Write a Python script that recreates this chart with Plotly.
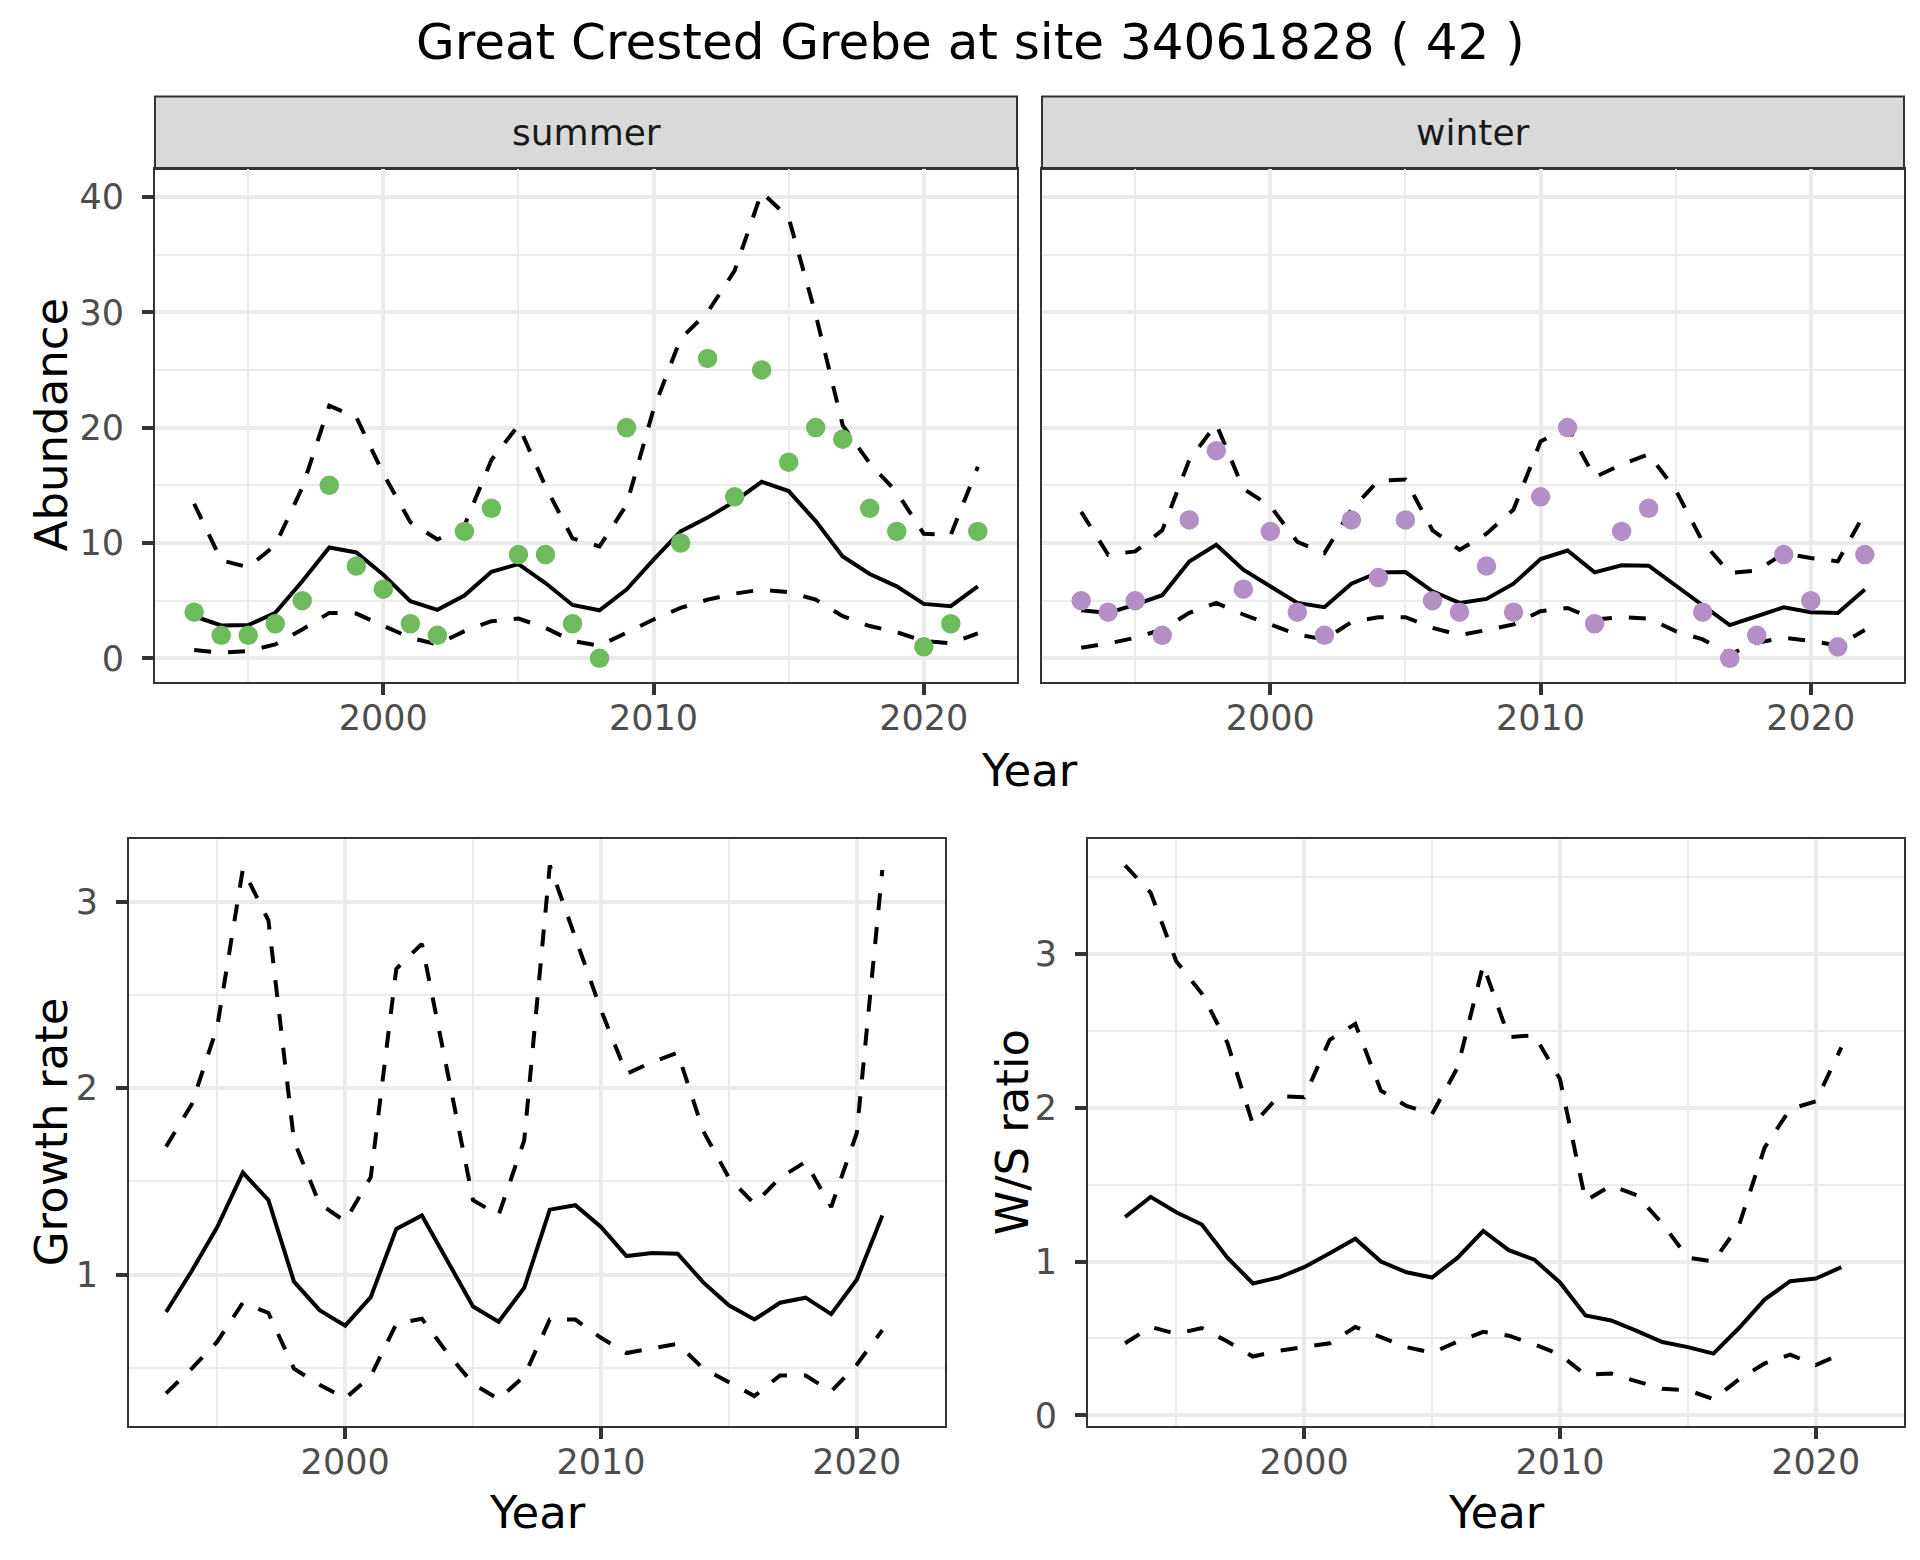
import plotly.graph_objects as go

# ---------------- data ----------------
years = list(range(1993, 2023))
ratio_years = list(range(1993, 2022))

summer_obs = [4, 2, 2, 3, 5, 15, 8, 6, 3, 2, 11, 13, 9, 9, 3, 0, 20, None, 10, 26,
              14, 25, 17, 20, 19, 13, 11, 1, 3, 11]
summer_mean = [3.65, 2.85, 2.88, 3.94, 6.68, 9.61, 9.18, 7.25, 4.95, 4.20, 5.44, 7.51,
               8.17, 6.53, 4.63, 4.17, 5.96, 8.55, 11.0, 12.2, 13.6, 15.3, 14.5, 11.9,
               8.83, 7.31, 6.24, 4.72, 4.52, 6.24]
summer_upper = [13.4, 8.5, 7.9, 9.8, 14.8, 21.9, 20.9, 16.0, 11.8, 10.3, 11.5, 17.2,
                20.2, 14.9, 10.4, 9.7, 13.3, 21.6, 27.7, 30.0, 33.6, 40.4, 38.2, 29.8,
                20.2, 16.9, 14.4, 10.8, 10.7, 16.6]
summer_lower = [0.72, 0.49, 0.63, 1.21, 2.5, 3.94, 3.88, 2.8, 1.78, 1.21, 2.36, 3.22,
                3.45, 2.65, 1.5, 1.09, 2.2, 3.37, 4.37, 5.09, 5.61, 5.96, 5.73, 5.09,
                3.65, 2.8, 2.27, 1.5, 1.3, 2.16]

winter_obs = [5, 4, 5, 2, 12, 18, 6, 11, 4, 2, 12, 7, 12, 5, 4, 8, 4, 14, 20, 3,
              11, 13, None, 4, 0, 2, 9, 5, 1, 9]
winter_mean = [4.17, 3.94, 4.66, 5.47, 8.4, 9.84, 7.68, 6.24, 4.81, 4.43, 6.47, 7.45,
               7.48, 5.81, 4.81, 5.15, 6.47, 8.6, 9.35, 7.45, 8.06, 8.03, 6.3, 4.6,
               2.88, 3.65, 4.43, 4.0, 3.94, 5.96]
winter_upper = [12.7, 8.98, 9.27, 11.1, 17.2, 20.3, 14.7, 13.2, 10.1, 9.12, 12.9, 15.4,
                15.5, 11.1, 9.4, 10.8, 12.9, 18.8, 20.0, 15.7, 16.8, 17.7, 14.6, 10.1,
                7.4, 7.6, 9.1, 8.7, 8.4, 12.6]
winter_lower = [0.92, 1.29, 1.78, 2.5, 3.94, 4.8, 3.8, 2.94, 2.07, 1.64, 3.14, 3.57,
                3.57, 2.65, 2.01, 2.45, 2.94, 4.09, 4.37, 3.37, 3.57, 3.45, 2.36, 1.64,
                0.35, 1.35, 1.78, 1.5, 1.12, 2.45]

growth_mean = [0.80, 1.02, 1.256, 1.548, 1.40, 0.963, 0.81, 0.727, 0.88, 1.246, 1.318,
               1.07, 0.83, 0.748, 0.93, 1.349, 1.373, 1.256, 1.10, 1.117, 1.113, 0.959,
               0.836, 0.76, 0.85, 0.877, 0.789, 0.973, 1.318]
growth_upper = [1.687, 1.913, 2.33, 3.174, 2.9, 1.718, 1.38, 1.287, 1.523, 2.64, 2.774,
                2.1, 1.40, 1.32, 1.72, 3.195, 2.81, 2.42, 2.077, 2.14, 2.19, 1.77,
                1.52, 1.38, 1.52, 1.605, 1.363, 1.76, 3.17]
growth_lower = [0.364, 0.497, 0.641, 0.85, 0.795, 0.497, 0.41, 0.337, 0.456, 0.737,
                0.764, 0.58, 0.415, 0.333, 0.456, 0.76, 0.76, 0.662, 0.58, 0.604, 0.63,
                0.497, 0.426, 0.35, 0.46, 0.46, 0.374, 0.518, 0.703]

ws_mean = [1.289, 1.42, 1.32, 1.24, 1.025, 0.857, 0.896, 0.963, 1.054, 1.148, 1.0,
           0.93, 0.896, 1.025, 1.198, 1.074, 1.012, 0.864, 0.649, 0.617, 0.55, 0.477,
           0.444, 0.402, 0.568, 0.753, 0.872, 0.889, 0.963]
ws_upper = [3.573, 3.395, 2.95, 2.74, 2.42, 1.889, 2.074, 2.067, 2.44, 2.543, 2.11,
            2.01, 1.958, 2.26, 2.926, 2.457, 2.47, 2.185, 1.395, 1.494, 1.43, 1.247,
            1.025, 1.0, 1.235, 1.74, 1.99, 2.04, 2.39]
ws_lower = [0.469, 0.575, 0.53, 0.568, 0.48, 0.383, 0.42, 0.444, 0.469, 0.575, 0.506,
            0.444, 0.407, 0.48, 0.543, 0.518, 0.462, 0.395, 0.264, 0.272, 0.222, 0.173,
            0.165, 0.106, 0.235, 0.338, 0.395, 0.328, 0.40]

facet_labels = ["summer", "winter"]
title_text = "Great Crested Grebe at site 34061828 ( 42 )"

# ---------------- styling ----------------
FONT = "DejaVu Sans"
W, H = 1920, 1560
GREEN = "#6DBB5C"
PURPLE = "#B48FC5"
LINE_W = 4
DASH = "17px,17px"


def fx(x):
    return x / W


def fy(y):
    return 1 - y / H


def expand(vals_lists, mult=0.05):
    vals = [v for lst in vals_lists for v in lst if v is not None]
    lo, hi = min(vals), max(vals)
    d = hi - lo
    return [lo - mult * d, hi + mult * d]


# panel boxes in pixels: (left, right, top, bottom)
P_SUM = (147, 1009, 162, 678)
P_WIN = (1034, 1896, 162, 678)
P_GR = (121, 937, 836, 1427)
P_WS = (1080, 1896, 836, 1427)
STRIP_TOP = 89

xr = expand([years])
yr_top = expand([summer_obs, summer_upper, summer_lower, winter_obs, winter_upper, winter_lower])
yr_gr = expand([growth_upper, growth_lower])
yr_ws = expand([ws_upper, ws_lower])

fig = go.Figure()


def add_band(x, mean, upper, lower, xa, ya):
    for vals, dash in ((upper, DASH), (lower, DASH), (mean, "solid")):
        fig.add_trace(go.Scatter(x=x, y=vals, mode="lines", xaxis=xa, yaxis=ya,
                                 line=dict(color="black", width=LINE_W, dash=dash),
                                 showlegend=False, hoverinfo="skip"))


add_band(years, summer_mean, summer_upper, summer_lower, "x", "y")
fig.add_trace(go.Scatter(x=years, y=summer_obs, mode="markers", xaxis="x", yaxis="y",
                         marker=dict(color=GREEN, size=19.5, line=dict(width=0)),
                         showlegend=False))
add_band(years, winter_mean, winter_upper, winter_lower, "x2", "y2")
fig.add_trace(go.Scatter(x=years, y=winter_obs, mode="markers", xaxis="x2", yaxis="y2",
                         marker=dict(color=PURPLE, size=19.5, line=dict(width=0)),
                         showlegend=False))
add_band(ratio_years, growth_mean, growth_upper, growth_lower, "x3", "y3")
add_band(ratio_years, ws_mean, ws_upper, ws_lower, "x4", "y4")

tickfont = dict(family=FONT, size=35, color="#4D4D4D")


def axis_style(domain, rng, tick0, dtick, mtick0, anchor, standoff,
               showlabels=True, ticks=True):
    return dict(
        domain=domain, range=rng, anchor=anchor,
        showline=True, linecolor="#333333", linewidth=2, mirror=True,
        showgrid=True, gridcolor="#EBEBEB", gridwidth=4, zeroline=False,
        ticks="outside" if ticks else "", ticklen=11, tickwidth=3.5, tickcolor="#333333",
        tickfont=tickfont, ticklabelstandoff=standoff, showticklabels=showlabels,
        tickmode="linear", tick0=tick0, dtick=dtick,
        minor=dict(showgrid=True, gridcolor="#EBEBEB", gridwidth=2,
                   tick0=mtick0, dtick=dtick, ticks=""),
        fixedrange=True,
    )


XS, YS = -7, 11
fig.update_layout(
    width=W, height=H, autosize=False,
    margin=dict(l=0, r=0, t=0, b=0),
    paper_bgcolor="white", plot_bgcolor="white",
    font=dict(family=FONT),
    xaxis=axis_style([fx(P_SUM[0]), fx(P_SUM[1])], xr, 2000, 10, 1995, "y", XS),
    yaxis=axis_style([fy(P_SUM[3]), fy(P_SUM[2])], yr_top, 0, 10, 5, "x", YS),
    xaxis2=axis_style([fx(P_WIN[0]), fx(P_WIN[1])], xr, 2000, 10, 1995, "y2", XS),
    yaxis2=axis_style([fy(P_WIN[3]), fy(P_WIN[2])], yr_top, 0, 10, 5, "x2", YS,
                      showlabels=False, ticks=False),
    xaxis3=axis_style([fx(P_GR[0]), fx(P_GR[1])], xr, 2000, 10, 1995, "y3", XS),
    yaxis3=axis_style([fy(P_GR[3]), fy(P_GR[2])], yr_gr, 1, 1, 0.5, "x3", YS),
    xaxis4=axis_style([fx(P_WS[0]), fx(P_WS[1])], xr, 2000, 10, 1995, "y4", XS),
    yaxis4=axis_style([fy(P_WS[3]), fy(P_WS[2])], yr_ws, 0, 1, 0.5, "x4", YS),
)

# strips
shapes = []
annotations = []
for (l, r, t, b), lab in zip((P_SUM, P_WIN), facet_labels):
    shapes.append(dict(type="rect", xref="paper", yref="paper",
                       x0=fx(l), x1=fx(r), y0=fy(t), y1=fy(STRIP_TOP),
                       fillcolor="#D9D9D9", line=dict(color="#333333", width=2),
                       layer="below"))
    annotations.append(dict(text=lab, x=fx((l + r) / 2), y=fy((STRIP_TOP + t) / 2),
                            xref="paper", yref="paper", showarrow=False,
                            xanchor="center", yanchor="middle",
                            font=dict(family=FONT, size=36, color="#1A1A1A")))

title_font = dict(family=FONT, size=45, color="black")


def label(text, x, y, angle=0, font=title_font):
    annotations.append(dict(text=text, x=fx(x), y=fy(y), xref="paper", yref="paper",
                            showarrow=False, xanchor="center", yanchor="middle",
                            textangle=angle, font=font))


label(title_text, 962, 34, font=dict(family=FONT, size=50, color="black"))
label("Abundance", 43, (P_SUM[2] + P_SUM[3]) / 2, angle=-90)
label("Year", (P_SUM[0] + P_WIN[1]) / 2, 767)
label("Growth rate", 43, (P_GR[2] + P_GR[3]) / 2, angle=-90)
label("Year", (P_GR[0] + P_GR[1]) / 2, 1514)
label("W/S ratio", 1004, (P_WS[2] + P_WS[3]) / 2, angle=-90)
label("Year", (P_WS[0] + P_WS[1]) / 2, 1514)

fig.update_layout(shapes=shapes, annotations=annotations)
fig.write_html("out.html")
